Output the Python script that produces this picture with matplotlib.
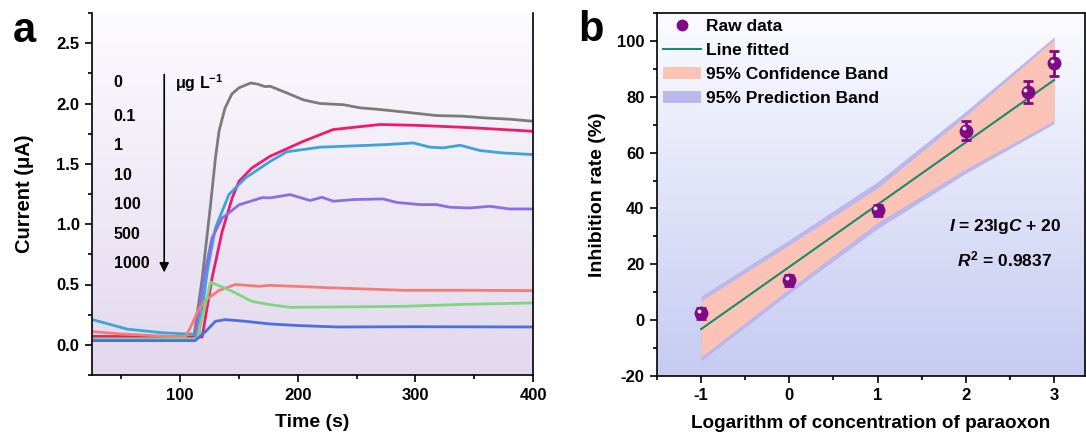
import numpy as np
import matplotlib
matplotlib.use("Agg")
import matplotlib.pyplot as plt
from matplotlib.lines import Line2D
from matplotlib.patches import Patch
from matplotlib.ticker import MultipleLocator
from matplotlib.colors import LinearSegmentedColormap
import matplotlib.transforms as mtransforms

plt.rcParams['font.family'] = ['Liberation Sans', 'DejaVu Sans']
plt.rcParams['font.weight'] = 'bold'
plt.rcParams['axes.unicode_minus'] = False
plt.rcParams['mathtext.fontset'] = 'custom'
plt.rcParams['mathtext.rm'] = 'Liberation Sans:bold'
plt.rcParams['mathtext.it'] = 'Liberation Sans:italic:bold'
plt.rcParams['mathtext.bf'] = 'Liberation Sans:bold'

# ---------------- Panel a data (time in s, current in uA) ----------------
conc_labels = ["0", "0.1", "1", "10", "100", "500", "1000"]
colors_a = ["#7b7b7b", "#ee1a6e", "#3ba4d8", "#8a6ee2", "#f27d74", "#7fd67f", "#4b6fe2"]

t_0 = [25, 60, 100, 111.6, 118.7, 125.8, 130, 133, 138, 144, 150, 155, 160, 166, 172, 176.5,
       190, 204.8, 219, 238.8, 253, 270, 289.7, 318, 340, 360.6, 380, 400]
i_0 = [0.06, 0.06, 0.06, 0.06, 0.55, 1.16, 1.55, 1.77, 1.96, 2.08, 2.13, 2.15, 2.17, 2.16, 2.14, 2.143,
       2.09, 2.03, 2.00, 1.99, 1.964, 1.95, 1.93, 1.90, 1.895, 1.88, 1.87, 1.853]

t_01 = [25, 60, 100, 118.7, 127, 135.7, 144.2, 150, 161, 176.5, 204.8, 230, 270, 304, 346.4, 400]
i_01 = [0.07, 0.068, 0.065, 0.065, 0.55, 0.94, 1.217, 1.355, 1.466, 1.563, 1.687, 1.784, 1.826, 1.818, 1.80, 1.77]

t_1 = [25, 55, 85, 106, 115.9, 123, 130, 141.4, 155.5, 176.5, 190.6, 219, 261.4, 275.6, 298.2, 312.4,
       323.7, 338, 355, 374.7, 400]
i_1 = [0.21, 0.13, 0.10, 0.09, 0.085, 0.61, 0.97, 1.245, 1.383, 1.52, 1.60, 1.638, 1.654, 1.66, 1.673, 1.638,
       1.632, 1.654, 1.61, 1.59, 1.577]

t_10 = [25, 60, 100, 112.7, 120, 127, 135.7, 150, 169.7, 176.5, 193.5, 210.5, 220.4, 230.3, 247.3, 272.7,
        284, 304, 318, 329.4, 346.4, 363.4, 380, 400]
i_10 = [0.04, 0.04, 0.04, 0.04, 0.55, 0.886, 1.05, 1.16, 1.22, 1.218, 1.245, 1.196, 1.223, 1.19, 1.204, 1.209,
        1.18, 1.162, 1.162, 1.14, 1.134, 1.148, 1.126, 1.126]

t_100 = [25, 50, 80, 104.5, 110, 115, 121.5, 132.9, 147, 166.8, 176.5, 233, 289.5, 350, 400]
i_100 = [0.11, 0.09, 0.075, 0.065, 0.17, 0.28, 0.37, 0.45, 0.50, 0.485, 0.493, 0.471, 0.452, 0.452, 0.449]

t_500 = [25, 60, 100, 114.5, 125.8, 144.2, 161, 176.5, 193.5, 250, 289.5, 340, 400]
i_500 = [0.05, 0.05, 0.05, 0.05, 0.52, 0.444, 0.36, 0.333, 0.311, 0.315, 0.319, 0.335, 0.347]

t_1000 = [25, 60, 100, 112.7, 121.5, 130, 138.5, 155.5, 176.5, 200, 233, 300, 400]
i_1000 = [0.035, 0.035, 0.035, 0.035, 0.11, 0.195, 0.209, 0.195, 0.173, 0.16, 0.148, 0.15, 0.148]

curves_t = [t_0, t_01, t_1, t_10, t_100, t_500, t_1000]
curves_i = [i_0, i_01, i_1, i_10, i_100, i_500, i_1000]

# ---------------- Panel b data ----------------
log_c = [-1, 0, 1, 2, 2.7, 3]
inhib = [2.4, 14.3, 39.3, 67.9, 81.8, 92.0]
inhib_err = [2.0, 2.0, 2.0, 3.5, 4.0, 4.5]

fit_x = [-1, 3]
fit_y = [-3.2, 86.0]

band_x = [-1, 0, 1, 2, 3]
conf_lo = [-13.1, 11.3, 35.0, 54.2, 71.4]
conf_hi = [6.9, 27.0, 47.4, 73.2, 100.4]
pred_lo = [-14.6, 9.6, 32.8, 52.6, 70.4]
pred_hi = [8.6, 28.8, 49.6, 74.8, 101.4]

# ---------------- Figure ----------------
fig = plt.figure(figsize=(10.86, 4.41), dpi=100)
W, H = 1086, 441
ax_a = fig.add_axes([92 / W, 1 - 375 / H, (533 - 92) / W, (375 - 13) / H])
ax_b = fig.add_axes([657 / W, 1 - 376 / H, (1085 - 657) / W, (376 - 13) / H])


def gradient(ax, top, bottom):
    cmap = LinearSegmentedColormap.from_list("g", [bottom, top])
    grad = np.linspace(0, 1, 256).reshape(-1, 1)
    ax.imshow(grad, cmap=cmap, extent=[0, 1, 0, 1], transform=ax.transAxes,
              aspect='auto', origin='lower', zorder=0, interpolation='bicubic')


gradient(ax_a, "#fcfbfe", "#e3d8ee")
gradient(ax_b, "#fbfbff", "#c6cbf1")

# Panel a
for t, i, c in zip(curves_t, curves_i, colors_a):
    ax_a.plot(t, i, color=c, lw=2.0, zorder=3)

ax_a.set_xlim(25, 400)
ax_a.set_ylim(-0.25, 2.75)
ax_a.xaxis.set_major_locator(MultipleLocator(100))
ax_a.xaxis.set_minor_locator(MultipleLocator(50))
ax_a.yaxis.set_major_locator(MultipleLocator(0.5))
ax_a.yaxis.set_minor_locator(MultipleLocator(0.25))
ax_a.set_xticks([100, 200, 300, 400])
ax_a.set_xlabel("Time (s)", fontsize=14, fontweight='bold', labelpad=8)
ax_a.set_ylabel("Current (μA)", fontsize=14.5, fontweight='bold', labelpad=16)
ax_a.spines['top'].set_visible(False)

label_y = [2.17, 1.895, 1.652, 1.40, 1.167, 0.918, 0.676]
for lab, y in zip(conc_labels, label_y):
    ax_a.text(43.5, y, lab, fontsize=11.5, fontweight='bold', ha='left', va='center', zorder=5)
ax_a.annotate("", xy=(86.4, 0.60), xytext=(86.4, 2.24),
              arrowprops=dict(arrowstyle='-|>', color='black', lw=1.2,
                              mutation_scale=14, shrinkA=0, shrinkB=0), zorder=5)
ax_a.text(95.5, 2.17, r"μg L$^{-1}$", fontsize=11.5, fontweight='bold', ha='left', va='center', zorder=5)

# Panel b
ax_b.fill_between(band_x, pred_lo, pred_hi, color="#bcb7ea", lw=0, zorder=1)
ax_b.fill_between(band_x, conf_lo, conf_hi, color="#fac3b5", lw=0, zorder=2)
ax_b.plot(fit_x, fit_y, color="#1a8a6c", lw=1.5, zorder=3)
ax_b.errorbar(log_c, inhib, yerr=inhib_err, fmt='o', color="#7f0a86", ms=9,
              capsize=3.5, elinewidth=2.0, capthick=2.0, zorder=4)
ax_b.plot(log_c, inhib, 'o', color='white', ms=2.8, zorder=5,
          markeredgewidth=0, alpha=0.9,
          transform=ax_b.transData + mtransforms.ScaledTranslation(-1.6 / 72, 1.6 / 72, fig.dpi_scale_trans))

ax_b.set_xlim(-1.5, 3.35)
ax_b.set_ylim(-20, 110)
ax_b.xaxis.set_major_locator(MultipleLocator(1))
ax_b.xaxis.set_minor_locator(MultipleLocator(0.5))
ax_b.yaxis.set_major_locator(MultipleLocator(20))
ax_b.yaxis.set_minor_locator(MultipleLocator(10))
ax_b.set_yticks([-20, 0, 20, 40, 60, 80, 100])
ax_b.set_xlabel("Logarithm of concentration of paraoxon", fontsize=13.6, fontweight='bold', labelpad=8)
ax_b.set_ylabel("Inhibition rate (%)", fontsize=14, fontweight='bold', labelpad=8)

ax_b.text(2.44, 33.6, r"$I$ = 23lg$C$ + 20", fontsize=12.5, fontweight='bold',
          ha='center', va='center', zorder=6)
ax_b.text(2.44, 21.8, r"$R^2$ = 0.9837", fontsize=12.5, fontweight='bold',
          ha='center', va='center', zorder=6)

handles = [
    Line2D([], [], marker='o', ls='none', color="#7f0a86", ms=7.5),
    Line2D([], [], color="#1a8a6c", lw=1.5),
    Patch(facecolor="#fac3b5", edgecolor='none'),
    Patch(facecolor="#bcb7ea", edgecolor='none'),
]
labels = ["Raw data", "Line fitted", "95% Confidence Band", "95% Prediction Band"]
leg = ax_b.legend(handles, labels, loc='upper left', bbox_to_anchor=(0.0, 1.0), frameon=False,
                  fontsize=12.5, handlelength=2.2, handletextpad=0.3, labelspacing=0.52,
                  borderaxespad=0.0, borderpad=0.33)
for txt in leg.get_texts():
    txt.set_fontweight('bold')
leg.set_zorder(7)

for ax in (ax_a, ax_b):
    for sp in ax.spines.values():
        sp.set_linewidth(1.2)
        sp.set_zorder(8)
    ax.tick_params(which='major', direction='out', length=5, width=1.2, labelsize=12, pad=4)
    ax.tick_params(which='minor', direction='out', length=3, width=1.2)
    for lab in ax.get_xticklabels() + ax.get_yticklabels():
        lab.set_fontweight('bold')

fig.text(24 / W, 1 - 31 / H, "a", fontsize=30, fontweight='bold', ha='center', va='center')
fig.text(591 / W, 1 - 30 / H, "b", fontsize=30, fontweight='bold', ha='center', va='center')

fig.savefig("out.png", dpi=100)
